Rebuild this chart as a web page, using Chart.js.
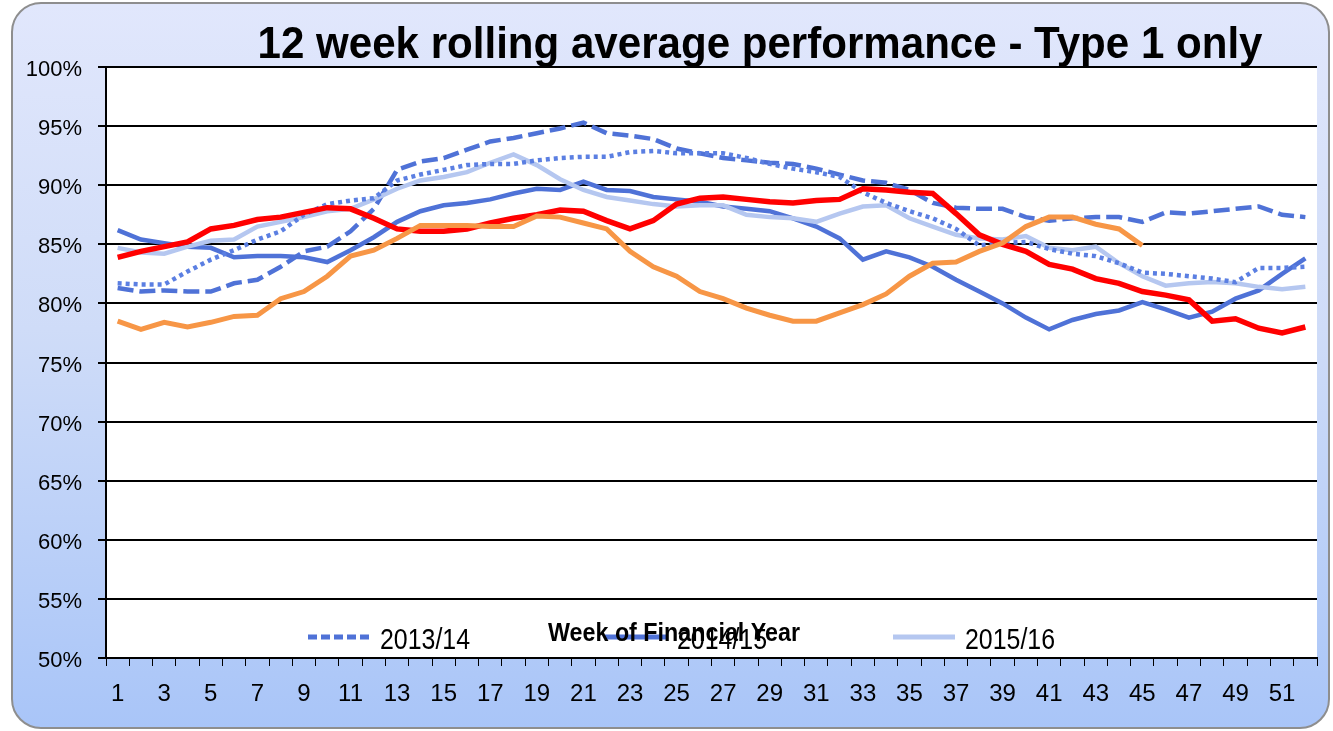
<!DOCTYPE html>
<html>
<head>
<meta charset="utf-8">
<script src="https://cdn.jsdelivr.net/npm/chart.js@4.4.0/dist/chart.umd.min.js"></script>
<style>
  html, body { margin: 0; padding: 0; background: #fff; }
  #frame {
    position: absolute; left: 11px; top: 2px; width: 1315px; height: 723px;
    border: 2px solid #8e8e8e; border-radius: 30px;
    background: linear-gradient(to bottom, #e1e7fc 0%, #cfdcf8 45%, #a9c5f8 100%);
  }
  #chart { position: absolute; left: 0; top: 0; }
</style>
</head>
<body>
<div id="frame"></div>
<canvas id="chart" width="1333" height="731"></canvas>
<script>
// 12 week rolling average, Type 1 only
const FONT = "'Liberation Sans', Arial, sans-serif";
const TITLE = '12 week rolling average performance - Type 1 only';
const X_TITLE = 'Week of Financial Year';

const weeks = [1, 2, 3, 4, 5, 6, 7, 8, 9, 10, 11, 12, 13, 14, 15, 16, 17, 18, 19, 20,
  21, 22, 23, 24, 25, 26, 27, 28, 29, 30, 31, 32, 33, 34, 35, 36, 37, 38, 39, 40,
  41, 42, 43, 44, 45, 46, 47, 48, 49, 50, 51, 52];

const y1314 = [81.3, 81.0, 81.1, 81.0, 81.0, 81.7, 82.0, 83.1, 84.4, 84.8,
  86.1, 88.0, 91.3, 92.0, 92.3, 93.0, 93.7, 94.0, 94.4, 94.8,
  95.3, 94.4, 94.2, 93.9, 93.1, 92.7, 92.3, 92.1, 91.9, 91.8,
  91.4, 90.9, 90.4, 90.2, 89.6, 88.5, 88.1, 88.0, 88.0, 87.3,
  87.0, 87.2, 87.3, 87.3, 86.9, 87.7, 87.6, 87.8, 88.0, 88.2, 87.5, 87.3];
const y1415 = [86.2, 85.4, 85.1, 84.8, 84.7, 83.9, 84.0, 84.0, 83.9, 83.5,
  84.5, 85.6, 86.9, 87.8, 88.3, 88.5, 88.8, 89.3, 89.7, 89.6,
  90.3, 89.6, 89.5, 89.0, 88.8, 88.6, 88.2, 88.0, 87.8, 87.2,
  86.5, 85.5, 83.7, 84.4, 83.9, 83.1, 82.0, 81.0, 80.0, 78.8,
  77.8, 78.6, 79.1, 79.4, 80.1, 79.5, 78.8, 79.3, 80.4, 81.1, 82.5, 83.8];
const y1516 = [84.7, 84.3, 84.2, 84.8, 85.3, 85.4, 86.5, 86.9, 87.3, 87.8,
  88.0, 88.8, 89.7, 90.4, 90.7, 91.1, 91.9, 92.6, 91.7, 90.5,
  89.6, 89.0, 88.7, 88.4, 88.2, 88.3, 88.3, 87.5, 87.3, 87.2,
  86.9, 87.6, 88.2, 88.3, 87.2, 86.5, 85.8, 85.5, 85.4, 85.7,
  84.7, 84.5, 84.8, 83.4, 82.3, 81.5, 81.7, 81.8, 81.7, 81.4, 81.2, 81.4];
const y1617 = [81.7, 81.6, 81.6, 82.7, 83.7, 84.5, 85.4, 86.1, 87.5, 88.4,
  88.7, 88.9, 90.4, 90.9, 91.3, 91.7, 91.8, 91.8, 92.1, 92.3,
  92.4, 92.4, 92.8, 92.9, 92.7, 92.7, 92.7, 92.3, 91.8, 91.4,
  91.1, 90.7, 89.4, 88.5, 87.8, 87.2, 86.3, 84.9, 85.1, 85.2,
  84.6, 84.2, 84.0, 83.4, 82.6, 82.5, 82.3, 82.1, 81.8, 83.0, 83.0, 83.1];
const y1718 = [83.9, 84.4, 84.8, 85.2, 86.3, 86.6, 87.1, 87.3, 87.7, 88.1,
  88.0, 87.2, 86.3, 86.1, 86.1, 86.3, 86.8, 87.2, 87.5, 87.9,
  87.8, 87.0, 86.3, 87.0, 88.4, 88.9, 89.0, 88.8, 88.6, 88.5,
  88.7, 88.8, 89.7, 89.6, 89.4, 89.3, 87.6, 85.8, 85.0, 84.4,
  83.3, 82.9, 82.1, 81.7, 81.0, 80.7, 80.3, 78.5, 78.7, 77.9, 77.5, 78.0];
const y1819 = [78.5, 77.8, 78.4, 78.0, 78.4, 78.9, 79.0, 80.4, 81.0, 82.3,
  84.0, 84.5, 85.5, 86.6, 86.6, 86.6, 86.5, 86.5, 87.4, 87.3,
  86.8, 86.3, 84.4, 83.1, 82.3, 81.0, 80.4, 79.6, 79.0, 78.5,
  78.5, 79.2, 79.9, 80.8, 82.3, 83.4, 83.5, 84.4, 85.1, 86.5,
  87.3, 87.3, 86.7, 86.3, 84.9];

const yTicks = [50, 55, 60, 65, 70, 75, 80, 85, 90, 95, 100];

// text squeezed sideways to get the tall, narrow look of the original
function squeezedText(ctx, text, x, y, width, align) {
  const w = ctx.measureText(text).width;
  const sx = width / w;
  ctx.save();
  ctx.textAlign = 'left';
  const left = align === 'center' ? x - width / 2 : x;
  ctx.translate(left, y);
  ctx.scale(sx, 1);
  ctx.fillText(text, 0, 0);
  ctx.restore();
}

// white plot area on top of the blue frame
const plotBg = {
  id: 'plotBg',
  beforeDraw(chart) {
    const { ctx, chartArea: a } = chart;
    ctx.save();
    ctx.fillStyle = '#fff';
    ctx.fillRect(a.left, a.top, a.right - a.left, a.bottom - a.top);
    ctx.restore();
  }
};

// title, the in-plot legend (first three years only) and the axis title
const overlay = {
  id: 'overlay',
  afterDraw(chart) {
    const ctx = chart.ctx;
    ctx.save();
    ctx.fillStyle = '#000';
    ctx.textBaseline = 'alphabetic';
    ctx.font = 'bold 44px ' + FONT;
    squeezedText(ctx, TITLE, 760, 58, 1005, 'center');

    const legendX = [308, 605, 893];
    ctx.font = '29px ' + FONT;
    for (let i = 0; i < 3; i++) {
      const ds = chart.data.datasets[i];
      ctx.strokeStyle = ds.borderColor;
      ctx.lineWidth = 5;
      ctx.setLineDash(ds.borderDash.length ? [9, 4] : []);
      ctx.beginPath();
      ctx.moveTo(legendX[i], 637);
      ctx.lineTo(legendX[i] + 62, 637);
      ctx.stroke();
      squeezedText(ctx, ds.label, legendX[i] + 72, 649, 90, 'left');
    }
    ctx.setLineDash([]);
    ctx.font = 'bold 25px ' + FONT;
    squeezedText(ctx, X_TITLE, 674, 641, 252, 'center');
    ctx.restore();
  }
};

new Chart(document.getElementById('chart'), {
  type: 'line',
  data: {
    labels: weeks,
    datasets: [
      { label: '2013/14', data: y1314, borderColor: '#4f72d7', borderDash: [16, 6], borderWidth: 4.5, order: 5 },
      { label: '2014/15', data: y1415, borderColor: '#4f72d7', borderDash: [], borderWidth: 4.5, order: 4 },
      { label: '2015/16', data: y1516, borderColor: '#b5c7f0', borderDash: [], borderWidth: 4.5, order: 3 },
      { label: '2016/17', data: y1617, borderColor: '#5b7fe2', borderDash: [4, 4], borderWidth: 4.5, order: 2 },
      { label: '2017/18', data: y1718, borderColor: '#ff0000', borderDash: [], borderWidth: 5.5, order: 1 },
      { label: '2018/19', data: y1819, borderColor: '#f79646', borderDash: [], borderWidth: 5, order: 0 }
    ].map(d => Object.assign({ pointRadius: 0, tension: 0, fill: false, borderCapStyle: 'butt' }, d))
  },
  options: {
    responsive: false,
    animation: false,
    layout: { padding: { left: 0, top: 67, right: 16, bottom: 0 } },
    plugins: { legend: { display: false }, tooltip: { enabled: false }, title: { display: false } },
    scales: {
      x: {
        offset: true,
        grid: { offset: true, drawOnChartArea: false, drawTicks: true, tickLength: 8, color: '#000', lineWidth: 1 },
        border: { color: '#000', width: 2 },
        ticks: {
          autoSkip: false, maxRotation: 0, padding: 14, color: '#000',
          font: { family: FONT, size: 24 },
          callback: (v, i) => (i % 2 === 0 ? weeks[i] : '')
        },
        afterFit: s => { s.height = 73; }
      },
      y: {
        min: yTicks[0], max: yTicks[yTicks.length - 1],
        afterBuildTicks: s => { s.ticks = yTicks.map(v => ({ value: v })); },
        grid: { color: '#000', lineWidth: 2, tickLength: 8 },
        border: { color: '#000', width: 2 },
        ticks: { padding: 16, labelOffset: 3, color: '#000', font: { family: FONT, size: 22 }, callback: v => v + '%' },
        afterFit: s => { s.width = 106; }
      }
    }
  },
  plugins: [plotBg, overlay]
});
</script>
</body>
</html>
